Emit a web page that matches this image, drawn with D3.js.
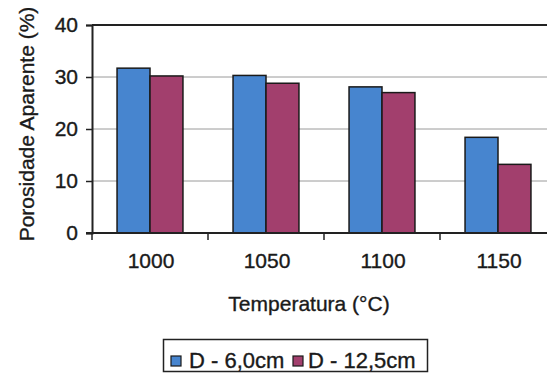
<!DOCTYPE html>
<html>
<head>
<meta charset="utf-8">
<script src="https://cdn.jsdelivr.net/npm/d3@7"></script>
<style>
  html, body { margin: 0; padding: 0; background: #fff; overflow: hidden; }
  svg { display: block; font-family: "Liberation Sans", Arial, sans-serif; }
  svg text { fill: #1a1a1a; stroke: #1a1a1a; stroke-width: 0.35px; }
</style>
</head>
<body>
<svg id="chart" width="547" height="378"></svg>
<script>
// Porosidade aparente por temperatura de queima, dois diâmetros
const categories = ["1000", "1050", "1100", "1150"];
const seriesNames = ["D - 6,0cm", "D - 12,5cm"];
const serieD60 = [31.7, 30.3, 28.1, 18.4];
const serieD125 = [30.2, 28.8, 27.0, 13.2];
const yTicks = [0, 10, 20, 30, 40];
const colors = ["#4785cf", "#a23f6d"];

const svg = d3.select("#chart");
const plotLeft = 92, plotRight = 556, plotTop = 25, plotBottom = 233;

const x0 = d3.scaleBand().domain(categories).range([plotLeft, plotRight]).padding(0);
const x1 = d3.scaleBand().domain([0, 1]).range([0, x0.bandwidth()])
  .paddingInner(0).paddingOuter(0.76);
const y = d3.scaleLinear().domain([0, 40]).range([plotBottom, plotTop]);

// grid lines
svg.append("g").selectAll("line").data(yTicks.filter(d => d > 0 && d < 40)).join("line")
  .attr("x1", plotLeft).attr("x2", 547)
  .attr("y1", d => y(d)).attr("y2", d => y(d))
  .attr("stroke", "#9a9a9a").attr("stroke-width", 1);

// top frame line
svg.append("line")
  .attr("x1", plotLeft).attr("x2", 547).attr("y1", y(40)).attr("y2", y(40))
  .attr("stroke", "#222").attr("stroke-width", 2);

// bars
const data = categories.map((c, i) => ({ c, vals: [serieD60[i], serieD125[i]] }));
const groups = svg.append("g").selectAll("g").data(data).join("g")
  .attr("transform", d => `translate(${x0(d.c)},0)`);
groups.selectAll("rect").data(d => d.vals.map((v, k) => ({ v, k }))).join("rect")
  .attr("x", d => x1(d.k))
  .attr("y", d => y(d.v))
  .attr("width", x1.bandwidth())
  .attr("height", d => y(0) - y(d.v))
  .attr("fill", d => colors[d.k])
  .attr("stroke", "#1a1a1a").attr("stroke-width", 1.5);

// y axis
const yAxis = d3.axisLeft(y).tickValues(yTicks).tickSize(6).tickPadding(8);
const gy = svg.append("g").attr("transform", `translate(${plotLeft},0)`).call(yAxis);
gy.select(".domain").attr("stroke", "#222").attr("stroke-width", 2);
gy.selectAll(".tick line").attr("stroke", "#222").attr("stroke-width", 1.5);
gy.selectAll(".tick text").attr("font-size", 21)
  .attr("font-family", "Liberation Sans, Arial, sans-serif");

// x axis: ticks at category boundaries
const gx = svg.append("g").attr("transform", `translate(0,${plotBottom})`);
gx.append("line").attr("x1", plotLeft - 6).attr("x2", 547).attr("y1", 0).attr("y2", 0)
  .attr("stroke", "#222").attr("stroke-width", 2);
const bounds = categories.map(c => x0(c));
gx.selectAll("line.tk").data(bounds).join("line").attr("class", "tk")
  .attr("x1", d => d).attr("x2", d => d).attr("y1", 0).attr("y2", 7)
  .attr("stroke", "#222").attr("stroke-width", 1.5);
gx.selectAll("text").data(categories).join("text")
  .attr("x", d => x0(d) + x0.bandwidth() / 2 + 1)
  .attr("y", 35)
  .attr("text-anchor", "middle")
  .attr("font-size", 21)
  .text(d => d);

// axis titles
svg.append("text")
  .attr("x", 309).attr("y", 311)
  .attr("text-anchor", "middle").attr("font-size", 21)
  .text("Temperatura (°C)");
svg.append("text")
  .attr("transform", "translate(34,124) rotate(-90)")
  .attr("text-anchor", "middle").attr("font-size", 21)
  .text("Porosidade Aparente (%)");

// legend
const lg = svg.append("g");
lg.append("rect").attr("x", 163.5).attr("y", 339.5).attr("width", 264).attr("height", 32)
  .attr("fill", "#fff").attr("stroke", "#222").attr("stroke-width", 1.5);
const itemX = [171, 293];
const textX = [189, 308];
seriesNames.forEach((name, k) => {
  lg.append("rect").attr("x", itemX[k]).attr("y", 356).attr("width", 10).attr("height", 10)
    .attr("fill", colors[k]).attr("stroke", "#1a1a1a").attr("stroke-width", 1.2);
  lg.append("text").attr("x", textX[k]).attr("y", 368)
    .attr("font-size", 22).text(name);
});
</script>
</body>
</html>
